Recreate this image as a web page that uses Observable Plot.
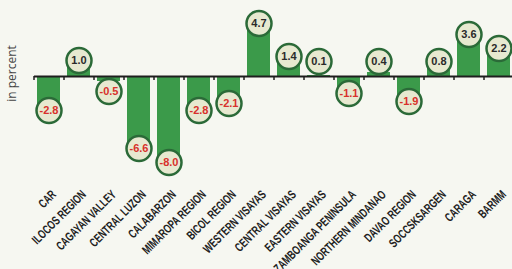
<!DOCTYPE html>
<html>
<head>
<meta charset="utf-8">
<script src="https://cdn.jsdelivr.net/npm/d3@7"></script>
<script src="https://cdn.jsdelivr.net/npm/@observablehq/plot@0.6"></script>
<style>
  html, body { margin: 0; padding: 0; background: #f6f7f1; }
  #chart svg { display: block; }
</style>
</head>
<body>
<div id="chart"></div>
<script>
const regions = ["CAR","ILOCOS REGION","CAGAYAN VALLEY","CENTRAL LUZON","CALABARZON","MIMAROPA REGION","BICOL REGION","WESTERN VISAYAS","CENTRAL VISAYAS","EASTERN VISAYAS","ZAMBOANGA PENINSULA","NORTHERN MINDANAO","DAVAO REGION","SOCCSKSARGEN","CARAGA","BARMM"];
const values = [-2.8, 1.0, -0.5, -6.6, -8.0, -2.8, -2.1, 4.7, 1.4, 0.1, -1.1, 0.4, -1.9, 0.8, 3.6, 2.2];
const yLabel = "in percent";

const data = regions.map((r, i) => ({region: r, value: values[i]}));
const pos = data.filter(d => d.value >= 0);
const neg = data.filter(d => d.value < 0);
const badgeY = d => Math.sign(d.value || 1) * Math.max(Math.abs(d.value), 0.9);

const chart = Plot.plot({
  width: 512,
  height: 269,
  marginTop: 0,
  marginLeft: 34,
  marginRight: 0,
  marginBottom: 80,
  style: {background: "#f6f7f1", overflow: "visible"},
  x: {domain: regions, range: [34, 514], paddingInner: 0.23, paddingOuter: 0.115, label: null},
  y: {domain: [-11.3, 7.6], axis: null},
  marks: [
    Plot.barY(data, {x: "region", y: "value", fill: "#3b9a4a"}),
    Plot.ruleY([0], {stroke: "#1e1e1e", strokeWidth: 2}),
    Plot.ruleX(data, {x: "region", y1: 0, y2: 0, dx: -15, insetBottom: -4, stroke: "#1e1e1e", strokeWidth: 1.5}),
    Plot.dot(pos, {x: "region", y: badgeY, dy: -6, r: 12.5, fill: "#e7e9d0", stroke: "#2b6a38", strokeWidth: 2.5}),
    Plot.dot(neg, {x: "region", y: badgeY, dy: 6, r: 12.5, fill: "#e7e9d0", stroke: "#2b6a38", strokeWidth: 2.5}),
    Plot.text(pos, {x: "region", y: badgeY, dy: -6, text: d => d.value.toFixed(1), fill: "#2a2a2a", fontWeight: "bold", fontSize: 11, fontFamily: "Liberation Sans, Arial, sans-serif"}),
    Plot.text(neg, {x: "region", y: badgeY, dy: 6, text: d => d.value.toFixed(1), fill: "#d8312b", fontWeight: "bold", fontSize: 11, fontFamily: "Liberation Sans, Arial, sans-serif"}),
    Plot.text([yLabel], {frameAnchor: "top-left", dx: -22, dy: 73, rotate: -90, textAnchor: "middle", lineAnchor: "middle", text: d => d, fill: "#444", fontSize: 12, fontFamily: "Open Sans, sans-serif"}),
    Plot.axisX({anchor: "bottom", tickSize: 0, tickPadding: 3, tickRotate: -45, dx: 5, fontSize: 12.5, fontWeight: "bold", fill: "#222", fontFamily: "Liberation Sans, Arial, sans-serif", label: null})
  ]
});
chart.querySelectorAll('g[aria-label="x-axis tick label"] text').forEach(t => {
  const tr = t.getAttribute("transform") || "";
  t.setAttribute("transform", tr + " scale(0.7,1)");
});
document.getElementById("chart").append(chart);
</script>
</body>
</html>
